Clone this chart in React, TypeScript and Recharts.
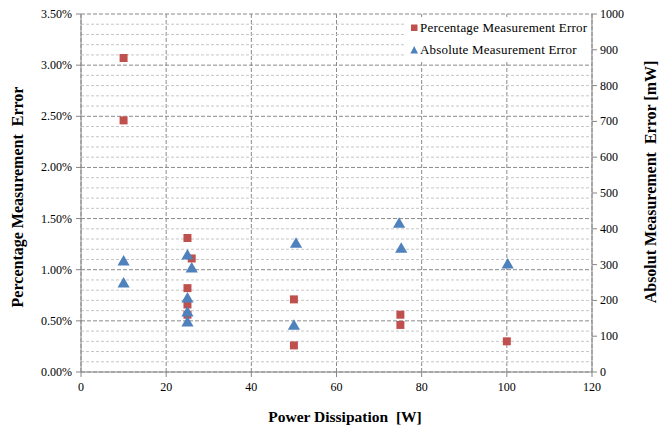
import React from "react"
import { CartesianGrid, ReferenceLine, Scatter, ScatterChart, XAxis, YAxis } from "recharts"

const xTicks = [0, 20, 40, 60, 80, 100, 120]
const pctTicks = [0, 0.5, 1, 1.5, 2, 2.5, 3, 3.5]
const pctMinorTicks = [
  0.1, 0.2, 0.3, 0.4, 0.6, 0.7, 0.8, 0.9, 1.1, 1.2, 1.3, 1.4, 1.6, 1.7, 1.8, 1.9,
  2.1, 2.2, 2.3, 2.4, 2.6, 2.7, 2.8, 2.9, 3.1, 3.2, 3.3, 3.4,
]
const absTicks = [0, 100, 200, 300, 400, 500, 600, 700, 800, 900, 1000]

const pctPowerW = [10, 10, 25, 26, 25, 25, 25, 50, 50, 75, 75, 100]
const pctError = [3.07, 2.46, 1.31, 1.11, 0.82, 0.66, 0.56, 0.71, 0.26, 0.56, 0.46, 0.3]
const absPowerW = [10, 10, 25, 26, 25, 25, 25, 50.5, 50, 74.7, 75.2, 100.2]
const absError = [307, 246, 324, 288, 204, 165, 137, 357, 128, 413, 343, 299]

const pctData = pctPowerW.map((x, i) => ({ x, y: pctError[i] }))
const absData = absPowerW.map((x, i) => ({ x, y: absError[i] }))

const RED = "#C0504D"
const BLUE = "#4F81BD"
const AXIS = "#868686"
const FONT = "Liberation Serif, Times New Roman, serif"

// own tick renderer so the serif font is really used
function makeTick(format: (v: number) => string, anchor: "middle" | "end" | "start", dy: string) {
  return (props: any) => (
    <text
      x={props.x}
      y={props.y}
      dy={dy}
      textAnchor={anchor}
      fill="#000"
      fontSize={12}
      style={{ fontFamily: FONT }}
    >
      {format(props.payload.value)}
    </text>
  )
}

const xTick = makeTick((v) => String(v), "middle", "0.9em")
const pctTick = makeTick((v) => `${Number(v).toFixed(2)}%`, "end", "0.33em")
const absTick = makeTick((v) => String(v), "start", "0.33em")

const title: React.CSSProperties = {
  position: "absolute",
  fontFamily: FONT,
  fontWeight: "bold",
  fontSize: 16,
  whiteSpace: "pre",
  color: "#000",
}

const legendRow: React.CSSProperties = { display: "flex", alignItems: "center", height: 22 }

export default function App() {
  return (
    <div
      style={{
        position: "absolute",
        left: 0,
        top: 0,
        width: 670,
        height: 430,
        background: "#fff",
        fontFamily: FONT,
      }}
    >
      <ScatterChart width={670} height={430} margin={{ top: 14, right: 0, bottom: 0, left: 0 }}>
        {pctMinorTicks.map((v) => (
          <ReferenceLine key={v} yAxisId="pct" y={v} stroke="#c6c6c6" strokeDasharray="3 2" />
        ))}
        <CartesianGrid yAxisId="pct" stroke="#8a8a8a" strokeDasharray="4 2" />
        <XAxis
          type="number"
          dataKey="x"
          domain={[0, 120]}
          ticks={xTicks}
          height={58}
          tick={xTick}
          tickSize={5}
          tickMargin={3}
          stroke={AXIS}
        />
        <YAxis
          yAxisId="pct"
          type="number"
          dataKey="y"
          domain={[0, 3.5]}
          ticks={pctTicks}
          width={81}
          tick={pctTick}
          tickSize={5}
          tickMargin={4}
          stroke={AXIS}
        />
        <YAxis
          yAxisId="abs"
          orientation="right"
          type="number"
          dataKey="y"
          domain={[0, 1000]}
          ticks={absTicks}
          width={78}
          tick={absTick}
          tickSize={5}
          tickMargin={3}
          stroke={AXIS}
        />
        <Scatter
          name="Percentage Measurement Error"
          yAxisId="pct"
          data={pctData}
          fill={RED}
          shape="square"
          size={56}
          isAnimationActive={false}
        />
        <Scatter
          name="Absolute Measurement Error"
          yAxisId="abs"
          data={absData}
          fill={BLUE}
          shape="triangle"
          size={48}
          isAnimationActive={false}
        />
      </ScatterChart>

      <div
        style={{
          position: "absolute",
          left: 405,
          top: 17,
          width: 186,
          height: 43,
          background: "#fff",
          fontSize: 13,
          letterSpacing: 0.2,
          color: "#000",
        }}
      >
        <div style={legendRow}>
          <svg width={15} height={10} style={{ flex: "none" }}>
            <rect x={6} y={1.5} width={6.5} height={6.5} fill={RED} />
          </svg>
          <span>Percentage Measurement Error</span>
        </div>
        <div style={legendRow}>
          <svg width={15} height={10} style={{ flex: "none" }}>
            <path d="M9.2 1 L13 8.5 L5.4 8.5 Z" fill={BLUE} />
          </svg>
          <span>Absolute Measurement Error</span>
        </div>
      </div>

      <div
        style={{ ...title, fontSize: 15.5, left: 0, width: 670, top: 408, textAlign: "center", paddingLeft: 10 }}
      >
        {"Power Dissipation  [W]"}
      </div>
      <div
        style={{
          ...title,
          left: 18,
          top: 197,
          transform: "translate(-50%, -50%) rotate(-90deg)",
        }}
      >
        {"Percentage Measurement  Error"}
      </div>
      <div
        style={{
          ...title,
          left: 651,
          top: 182,
          transform: "translate(-50%, -50%) rotate(-90deg)",
        }}
      >
        {"Absolut Measurement  Error [mW]"}
      </div>
    </div>
  )
}
